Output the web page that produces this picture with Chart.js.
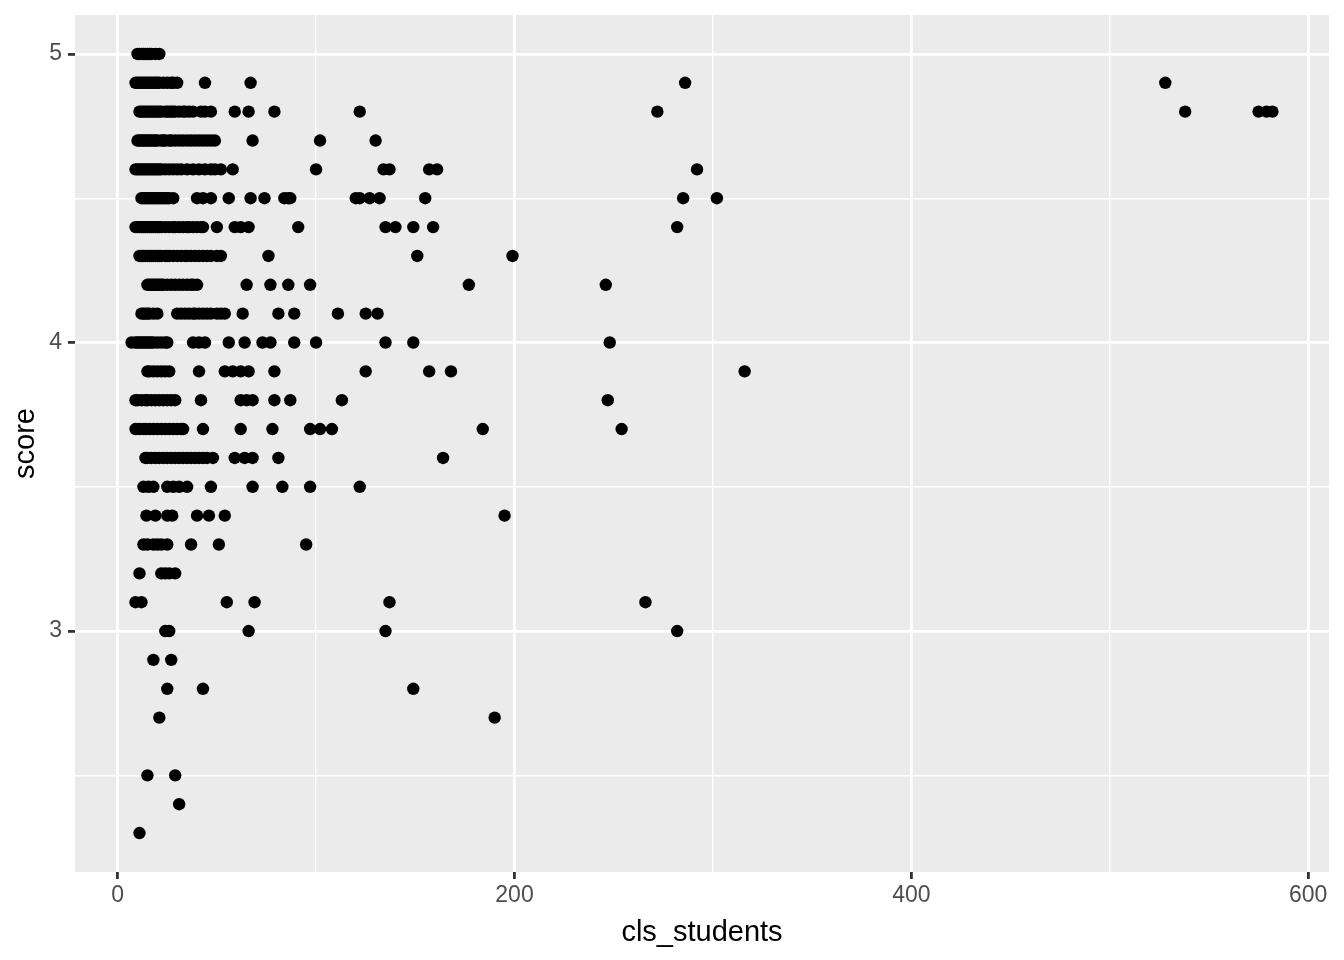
<!DOCTYPE html>
<html>
<head>
<meta charset="utf-8">
<script src="https://cdn.jsdelivr.net/npm/chart.js@4.4.1/dist/chart.umd.min.js"></script>
<style>
  body { margin: 0; background: #ffffff; }
  canvas { display: block; }
</style>
</head>
<body>
<canvas id="scatter" width="1344" height="960"></canvas>
<script>
// score levels (rows) and the cls_students values seen at each level
const scores = [5.0, 4.9, 4.8, 4.7, 4.6, 4.5, 4.4, 4.3, 4.2, 4.1, 4.0, 3.9, 3.8, 3.7, 3.6, 3.5, 3.4, 3.3, 3.2, 3.1, 3.0, 2.9, 2.8, 2.7, 2.5, 2.4, 2.3];
const clsStudents = [
  [10, 11, 12, 13, 14, 15, 16, 17, 19, 21],
  [9, 10, 11, 12, 13, 14, 15, 16, 17, 18, 19, 20, 21, 23, 25, 27, 28, 30, 44, 67, 286, 528],
  [11, 12, 13, 14, 15, 16, 17, 18, 19, 20, 21, 22, 24, 25, 26, 27, 28, 29, 31, 33, 34, 36, 38, 42, 44, 47, 59, 66, 79, 122, 272, 538, 575, 579, 582],
  [10, 11, 12, 13, 14, 15, 16, 17, 18, 19, 20, 22, 23, 24, 26, 27, 29, 31, 33, 35, 37, 39, 41, 43, 45, 47, 49, 68, 102, 130],
  [9, 10, 11, 12, 13, 14, 15, 16, 17, 18, 19, 20, 21, 22, 24, 26, 28, 30, 32, 35, 38, 41, 44, 47, 49, 52, 58, 100, 134, 137, 157, 161, 292],
  [12, 13, 14, 15, 16, 17, 18, 19, 20, 21, 22, 23, 24, 25, 26, 28, 40, 43, 47, 56, 67, 74, 84, 86, 87, 120, 122, 127, 132, 155, 285, 302],
  [9, 10, 11, 12, 13, 14, 15, 16, 17, 18, 19, 20, 21, 22, 24, 26, 28, 29, 31, 33, 35, 36, 38, 40, 42, 43, 50, 59, 62, 66, 91, 135, 140, 149, 159, 282],
  [11, 12, 13, 14, 15, 16, 17, 18, 19, 20, 21, 22, 24, 25, 26, 28, 30, 32, 34, 35, 37, 39, 41, 43, 45, 47, 50, 52, 76, 151, 199],
  [15, 16, 17, 18, 19, 20, 21, 22, 23, 25, 27, 29, 31, 33, 35, 37, 38, 40, 65, 77, 86, 97, 177, 246],
  [12, 13, 14, 15, 16, 18, 20, 30, 32, 34, 36, 38, 39, 41, 43, 45, 47, 50, 52, 54, 63, 81, 89, 111, 125, 131],
  [7, 9, 10, 11, 12, 13, 14, 15, 16, 17, 18, 20, 22, 24, 25, 38, 41, 44, 56, 64, 73, 77, 89, 100, 135, 149, 248],
  [15, 16, 18, 20, 22, 24, 26, 41, 54, 58, 62, 66, 79, 125, 157, 168, 316],
  [9, 10, 12, 14, 15, 17, 19, 21, 23, 25, 27, 29, 42, 62, 65, 68, 79, 87, 113, 247],
  [9, 11, 13, 14, 16, 18, 20, 22, 24, 26, 28, 30, 32, 33, 43, 62, 78, 97, 102, 108, 184, 254],
  [14, 15, 17, 19, 21, 23, 25, 27, 29, 31, 33, 35, 37, 39, 41, 43, 45, 48, 59, 64, 68, 81, 164],
  [13, 15.5, 18, 25, 28, 31, 35, 47, 68, 83, 97, 122],
  [14.5, 19, 25, 27.5, 40, 46, 54, 195],
  [13, 15, 18, 20, 22, 25, 37, 51, 95],
  [11, 22, 24, 26, 29],
  [9, 12, 55, 69, 137, 266],
  [24, 26, 66, 135, 282],
  [18, 27],
  [25, 43, 149],
  [21, 190],
  [15, 29],
  [31],
  [11]
];
const xTicksShown = [0, 200, 400, 600];
const yTicksShown = [3, 4, 5];

const points = [];
scores.forEach((s, i) => {
  clsStudents[i].forEach(n => points.push({ x: n, y: s }));
});

// grey panel behind the grid, like ggplot's theme_grey
const panelBackground = {
  id: 'panelBackground',
  beforeDraw(chart) {
    const { ctx, chartArea: a } = chart;
    ctx.save();
    ctx.fillStyle = '#EBEBEB';
    ctx.fillRect(a.left, a.top, a.right - a.left, a.bottom - a.top);
    ctx.restore();
  }
};

const isMajor = (v, list) => list.some(t => Math.abs(t - v) < 1e-6);
const fontFamily = '"Liberation Sans", Arial, Helvetica, sans-serif';

new Chart(document.getElementById('scatter'), {
  type: 'scatter',
  data: {
    datasets: [{
      data: points,
      backgroundColor: '#000000',
      borderWidth: 0,
      pointRadius: 6.2,
      pointHoverRadius: 6.2
    }]
  },
  options: {
    responsive: false,
    animation: false,
    devicePixelRatio: 1,
    layout: { padding: { top: 15, right: 15, left: 0, bottom: 0 } },
    plugins: { legend: { display: false }, tooltip: { enabled: false } },
    scales: {
      x: {
        type: 'linear',
        min: -21.5,
        max: 610.5,
        border: { display: false },
        grid: {
          color: '#FFFFFF',
          lineWidth: c => isMajor(c.tick.value, xTicksShown) ? 2.8 : 1.4,
          tickLength: 7,
          tickWidth: 2.8,
          tickColor: c => isMajor(c.tick.value, xTicksShown) ? '#333333' : 'rgba(0,0,0,0)'
        },
        ticks: {
          stepSize: 100,
          includeBounds: false,
          maxRotation: 0,
          autoSkip: false,
          padding: 3,
          color: '#4D4D4D',
          font: { family: fontFamily, size: 23 },
          callback: v => isMajor(v, xTicksShown) ? String(v) : ''
        },
        title: {
          display: true,
          text: 'cls_students',
          color: '#000000',
          font: { family: fontFamily, size: 29 },
          padding: { top: 0, bottom: 10 }
        },
        afterFit: scale => {
          scale.height = 88;
          scale.paddingLeft = 0;
          scale.paddingRight = 0;
        }
      },
      y: {
        type: 'linear',
        min: 2.165,
        max: 5.135,
        border: { display: false },
        grid: {
          color: '#FFFFFF',
          lineWidth: c => isMajor(c.tick.value, yTicksShown) ? 2.8 : 1.4,
          tickLength: 7,
          tickWidth: 2.8,
          tickColor: c => isMajor(c.tick.value, yTicksShown) ? '#333333' : 'rgba(0,0,0,0)'
        },
        ticks: {
          stepSize: 0.5,
          includeBounds: false,
          autoSkip: false,
          padding: 6,
          color: '#4D4D4D',
          font: { family: fontFamily, size: 23 },
          callback: v => isMajor(v, yTicksShown) ? String(Math.round(v)) : ''
        },
        title: {
          display: true,
          text: 'score',
          color: '#000000',
          font: { family: fontFamily, size: 29 },
          padding: { top: 9, bottom: 0 }
        },
        afterFit: scale => {
          scale.width = 75;
          scale.paddingTop = 0;
          scale.paddingBottom = 0;
        }
      }
    }
  },
  plugins: [panelBackground]
});
</script>
</body>
</html>
